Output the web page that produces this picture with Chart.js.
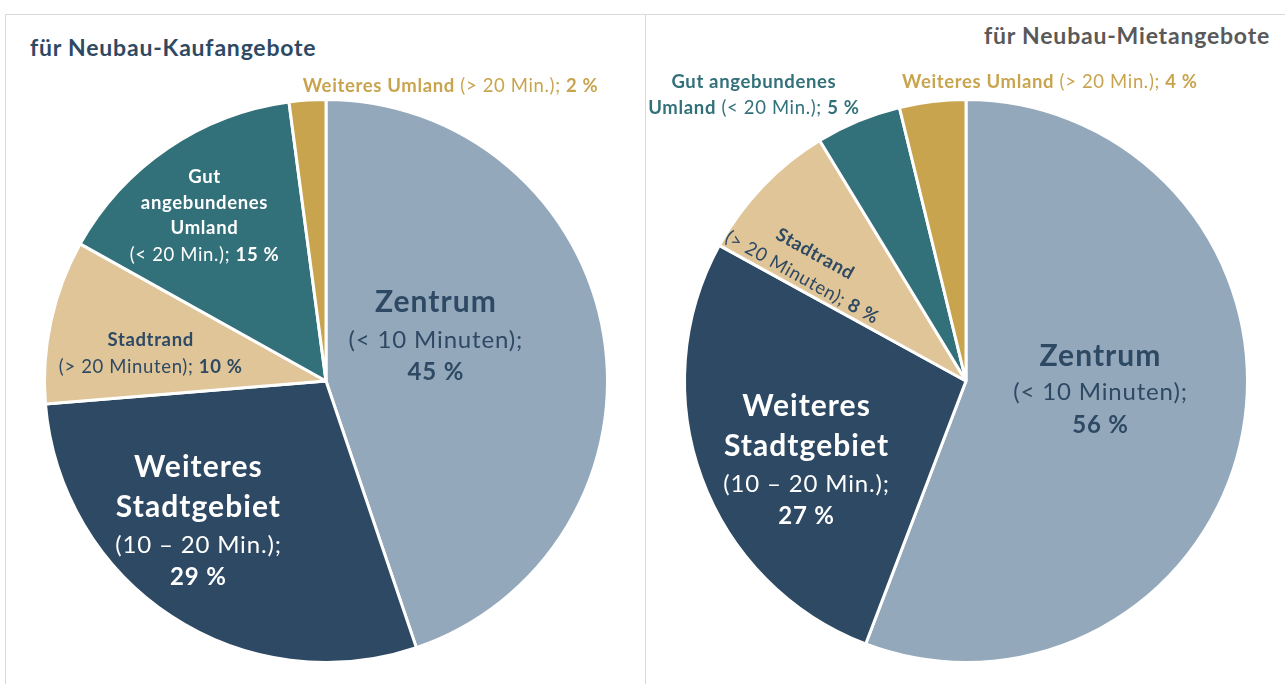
<!DOCTYPE html>
<html>
<head>
<meta charset="utf-8">
<script src="https://cdn.jsdelivr.net/npm/chart.js"></script>
<style>
  body { margin: 0; background: #fff; font-family: Lato, sans-serif; overflow: hidden; }
  .panel { position: absolute; top: 14px; height: 720px; border: 1px solid #d9d9d9; box-sizing: border-box; }
  .title { position: absolute; font-weight: bold; font-size: 23px; letter-spacing: 0.8px; line-height: 26px; white-space: nowrap; }
  canvas { position: absolute; }
</style>
</head>
<body>
<div class="panel" style="left:5px;width:641px"></div>
<div class="panel" style="left:645px;width:700px"></div>
<div class="title" style="left:30px;top:34px;color:#2e4963">für Neubau-Kaufangebote</div>
<div class="title" style="right:15px;top:22px;color:#595959">für Neubau-Mietangebote</div>
<canvas id="kauf" width="640" height="672" style="left:5px;top:13px"></canvas>
<canvas id="miet" width="640" height="672" style="left:645px;top:13px"></canvas>
<script>
// categories, in drawing order (clockwise from 12 o'clock)
const categories = ['Zentrum', 'Weiteres Stadtgebiet', 'Stadtrand', 'Gut angebundenes Umland', 'Weiteres Umland'];
// shares (labels show the rounded values)
const kaufValues = [44.8, 28.9, 9.4, 14.8, 2.1];
const mietValues = [55.8, 27.2, 8.3, 4.9, 3.8];
const colors = ['#94a8bb', '#2e4963', '#dfc597', '#32707a', '#c9a44e'];

const NAVY = '#2e4963', WHITE = '#ffffff', TEAL = '#32707a', GOLD = '#c9a44e';
const BIG = 30, MID = 24, SMALL = 18.5;

// label text per slice: lines of [size, yOffset, [[text, bold], ...]]
const kaufLabels = [
  { f: 0.41, dx: -4, dy: -25, color: NAVY, lines: [
    [BIG, -35, [['Zentrum', true]]],
    [MID, 3, [['(< 10 Minuten);', false]]],
    [MID, 35, [['45 %', true]]] ] },
  { f: 0.67, dx: -24, dy: -16, color: WHITE, lines: [
    [BIG, -55, [['Weiteres', true]]],
    [BIG, -15, [['Stadtgebiet', true]]],
    [MID, 23, [['(10 – 20 Min.);', false]]],
    [MID, 55, [['29 %', true]]] ] },
  { f: 0.63, dx: -2, dy: 10, color: NAVY, lines: [
    [SMALL, -13.5, [['Stadtrand', true]]],
    [SMALL, 13.5, [['(> 20 Minuten); ', false], ['10 %', true]]] ] },
  { f: 0.73, dx: -6, dy: 5, color: WHITE, lines: [
    [SMALL, -39, [['Gut', true]]],
    [SMALL, -13, [['angebundenes', true]]],
    [SMALL, 12, [['Umland', true]]],
    [SMALL, 39, [['(< 20 Min.); ', false], ['15 %', true]]] ] },
  { f: 1.05, dx: 144, dy: 0, color: GOLD, lines: [
    [SMALL, 0, [['Weiteres Umland', true], [' (> 20 Min.); ', false], ['2 %', true]]] ] }
];

const mietLabels = [
  { f: 0.475, dx: 3, dy: -15, color: NAVY, lines: [
    [BIG, -34, [['Zentrum', true]]],
    [MID, 2, [['(< 10 Minuten);', false]]],
    [MID, 35, [['56 %', true]]] ] },
  { f: 0.63, dx: 7, dy: 19, color: WHITE, lines: [
    [BIG, -55, [['Weiteres', true]]],
    [BIG, -15, [['Stadtgebiet', true]]],
    [MID, 23, [['(10 – 20 Min.);', false]]],
    [MID, 55, [['27 %', true]]] ] },
  { f: 0.69, dx: -17, dy: 19, rot: 29, color: NAVY, lines: [
    [SMALL, -13.5, [['Stadtrand', true]]],
    [SMALL, 13.5, [['(> 20 Minuten); ', false], ['8 %', true]]] ] },
  { f: 1.05, dx: -99, dy: -13, color: TEAL, lines: [
    [SMALL, -13, [['Gut angebundenes', true]]],
    [SMALL, 13, [['Umland', true], [' (< 20 Min.); ', false], ['5 %', true]]] ] },
  { f: 1.05, dx: 119, dy: -5, color: GOLD, lines: [
    [SMALL, 0, [['Weiteres Umland', true], [' (> 20 Min.); ', false], ['4 %', true]]] ] }
];

const sliceLabels = {
  id: 'sliceLabels',
  afterDatasetsDraw(chart, args, opts) {
    const ctx = chart.ctx;
    const arcs = chart.getDatasetMeta(0).data;
    arcs.forEach((arc, i) => {
      const spec = opts.labels[i];
      if (!spec) return;
      const p = arc.getProps(['x', 'y', 'startAngle', 'endAngle', 'outerRadius'], true);
      const mid = (p.startAngle + p.endAngle) / 2;
      const cx = p.x + Math.cos(mid) * p.outerRadius * spec.f + spec.dx;
      const cy = p.y + Math.sin(mid) * p.outerRadius * spec.f + spec.dy;
      ctx.save();
      ctx.translate(cx, cy);
      if (spec.rot) ctx.rotate(spec.rot * Math.PI / 180);
      ctx.fillStyle = spec.color;
      ctx.textBaseline = 'middle';
      ctx.textAlign = 'left';
      spec.lines.forEach(([size, yOff, segs]) => {
        const fontOf = b => (b ? 'bold ' : '') + size + 'px Lato, sans-serif';
        ctx.letterSpacing = (size * 0.035).toFixed(2) + 'px';
        let total = 0;
        segs.forEach(([t, b]) => { ctx.font = fontOf(b); total += ctx.measureText(t).width; });
        let x = -total / 2;
        segs.forEach(([t, b]) => {
          ctx.font = fontOf(b);
          ctx.fillText(t, x, yOff);
          x += ctx.measureText(t).width;
        });
      });
      ctx.restore();
    });
  }
};

function makePie(id, values, labels) {
  return new Chart(document.getElementById(id), {
    type: 'pie',
    data: {
      labels: categories,
      datasets: [{
        data: values,
        backgroundColor: colors,
        borderColor: '#ffffff',
        borderWidth: 3
      }]
    },
    options: {
      responsive: false,
      animation: false,
      devicePixelRatio: 1,
      layout: { padding: { left: 38, top: 85, right: 36, bottom: 21 } },
      plugins: {
        legend: { display: false },
        tooltip: { enabled: false },
        sliceLabels: { labels: labels }
      }
    },
    plugins: [sliceLabels]
  });
}

makePie('kauf', kaufValues, kaufLabels);
makePie('miet', mietValues, mietLabels);
</script>
</body>
</html>
